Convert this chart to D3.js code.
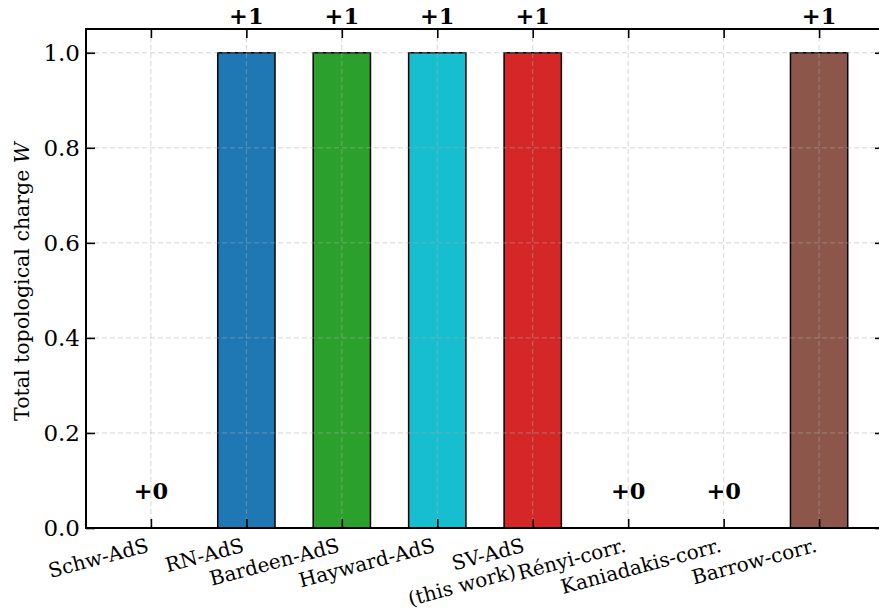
<!DOCTYPE html>
<html>
<head>
<meta charset="utf-8">
<script src="https://cdn.jsdelivr.net/npm/d3@7"></script>
<style>
  body { margin: 0; background: #fff; }
  svg text { font-family: "DejaVu Serif", serif; fill: #000; }
</style>
</head>
<body>
<div id="chart"></div>
<script>
// Chart data
const categories = ["Schw-AdS", "RN-AdS", "Bardeen-AdS", "Hayward-AdS", "SV-AdS\n(this work)", "Rényi-corr.", "Kaniadakis-corr.", "Barrow-corr."];
const charges = [0, 1, 1, 1, 1, 0, 0, 1];
const chargeLabels = ["+0", "+1", "+1", "+1", "+1", "+0", "+0", "+1"];
const barColors = ["#7f7f7f", "#1f77b4", "#2ca02c", "#17becf", "#d62728", "#9467bd", "#ff7f0e", "#8c564b"];
const yTicks = [0, 0.2, 0.4, 0.6, 0.8, 1.0];

const width = 879, height = 610;
const margin = {top: 29, right: -5, bottom: 82, left: 86};

const svg = d3.select("#chart").append("svg")
    .attr("width", width)
    .attr("height", height)
    .attr("font-family", "DejaVu Serif, serif");

// Scales: categories at integer positions, matplotlib-like padding
const xScale = d3.scaleLinear().domain([-0.68, categories.length - 1 + 0.68]).range([margin.left, width - margin.right]);
const yScale = d3.scaleLinear().domain([0, 1.05]).range([height - margin.bottom, margin.top]);
const barW = xScale(0.6) - xScale(0);
const x0 = margin.left, x1 = width - margin.right, y0 = height - margin.bottom, y1 = margin.top;

// Bars
svg.append("g").selectAll("rect")
    .data(charges)
    .enter().append("rect")
    .attr("x", (d, i) => xScale(i) - barW / 2)
    .attr("y", d => yScale(d))
    .attr("width", barW)
    .attr("height", d => yScale(0) - yScale(d))
    .attr("fill", (d, i) => barColors[i])
    .attr("stroke", "#000")
    .attr("stroke-width", 1.5);

// Grid (drawn above bars, like the original)
const grid = svg.append("g")
    .attr("stroke", "#b0b0b0")
    .attr("stroke-opacity", 0.5)
    .attr("stroke-width", 1)
    .attr("stroke-dasharray", "5,3");
grid.selectAll("line.h").data(yTicks).enter().append("line")
    .attr("x1", x0).attr("x2", x1)
    .attr("y1", d => yScale(d)).attr("y2", d => yScale(d));
grid.selectAll("line.v").data(categories).enter().append("line")
    .attr("x1", (d, i) => xScale(i)).attr("x2", (d, i) => xScale(i))
    .attr("y1", y1).attr("y2", y0);

// Axes with inward ticks on all four sides
const tickLen = 9;
const yAxisL = svg.append("g").attr("transform", `translate(${x0},0)`)
    .call(d3.axisLeft(yScale).tickValues(yTicks).tickFormat(d3.format(".1f")).tickSizeInner(-tickLen).tickSizeOuter(0).tickPadding(6));
const yAxisR = svg.append("g").attr("transform", `translate(${x1},0)`)
    .call(d3.axisRight(yScale).tickValues(yTicks).tickFormat("").tickSizeInner(-tickLen).tickSizeOuter(0));
const xAxisB = svg.append("g").attr("transform", `translate(0,${y0})`)
    .call(d3.axisBottom(xScale).tickValues(d3.range(categories.length)).tickFormat("").tickSizeInner(-tickLen).tickSizeOuter(0));
const xAxisT = svg.append("g").attr("transform", `translate(0,${y1})`)
    .call(d3.axisTop(xScale).tickValues(d3.range(categories.length)).tickFormat("").tickSizeInner(-tickLen).tickSizeOuter(0));
[yAxisL, yAxisR, xAxisB, xAxisT].forEach(a => {
    a.attr("font-family", null);
    a.select(".domain").remove();
    a.selectAll(".tick line").attr("stroke", "#000").attr("stroke-width", 1.6);
});
yAxisL.selectAll(".tick text")
    .style("font-size", "23px");

// Spines
svg.append("rect")
    .attr("x", x0).attr("y", y1)
    .attr("width", x1 - x0).attr("height", y0 - y1)
    .attr("fill", "none").attr("stroke", "#000").attr("stroke-width", 2);

// Rotated category labels, right-aligned to tick like matplotlib
const labelFont = 20;
categories.forEach((c, i) => {
    const outer = svg.append("g").attr("transform", `translate(${xScale(i)},${y0 + 5})`);
    const inner = outer.append("g");
    const t = inner.append("text")
        .attr("text-anchor", "end")
        .attr("transform", "rotate(-15)")
        .style("font-size", labelFont + "px");
    c.split("\n").forEach((line, k) => {
        t.append("tspan")
            .attr("x", 0)
            .attr("dx", k > 0 ? -15 : 0)
            .attr("dy", k === 0 ? 0 : "1.15em")
            .text(line);
    });
    const b = outer.node().getBBox();
    inner.attr("transform", `translate(${-(b.x + b.width)},${-b.y})`);
});

// Value labels above bars
svg.append("g").selectAll("text")
    .data(charges)
    .enter().append("text")
    .attr("x", (d, i) => xScale(i))
    .attr("y", d => yScale(d) - 29)
    .attr("text-anchor", "middle")
    .style("font-size", "22.5px")
    .style("font-weight", "bold")
    .text((d, i) => chargeLabels[i]);

// Y axis label
svg.append("text")
    .attr("transform", `translate(29,${(y0 + y1) / 2 + 3}) rotate(-90)`)
    .attr("text-anchor", "middle")
    .style("font-size", "20.5px")
    .text("Total topological charge ")
    .append("tspan").style("font-style", "italic").text("W");
</script>
</body>
</html>
